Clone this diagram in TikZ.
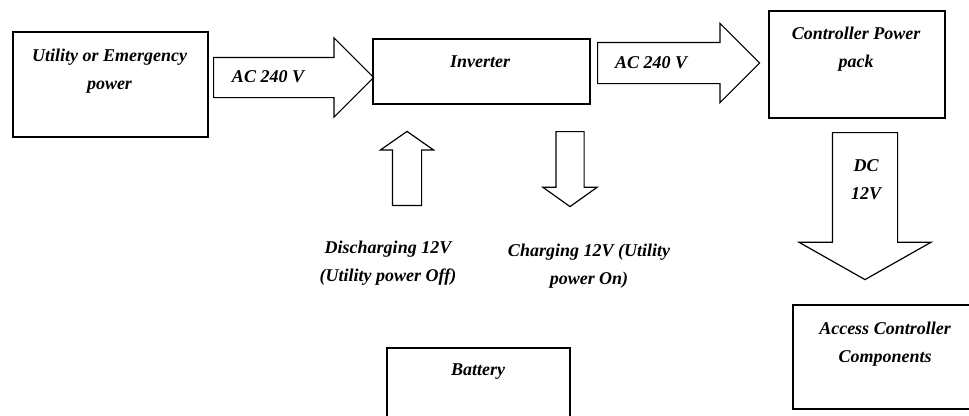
\documentclass[tikz,border=0pt]{standalone}
\usepackage{fontspec}
\setmainfont{Liberation Serif}
\usetikzlibrary{shapes.arrows}

\begin{document}
\begin{tikzpicture}[
    x=0.75pt, y=-0.75pt,
    txt/.style={align=center, font=\bfseries\itshape\fontsize{13.5}{21}\selectfont},
    block/.style={rectangle, draw, line width=1.3pt, anchor=north west, inner sep=0pt},
    flow/.style={single arrow, draw, line width=0.9pt, inner xsep=0pt, anchor=tail}
]
\useasboundingbox (0,0) rectangle (969,415);
\clip (0,0) rectangle (969,415);

% Boxes
\node[block, minimum width=146.25pt, minimum height=78.75pt] (utility) at (12,31) {};
\node[block, minimum width=162.75pt, minimum height=48.75pt] (inverter) at (372,38) {};
\node[block, minimum width=132pt, minimum height=80.25pt] (ctrlpack) at (768,10) {};
\node[block, minimum width=139.5pt, minimum height=78pt] (access) at (792,304) {};
\node[block, minimum width=137.25pt, minimum height=78.75pt] (battery) at (386,347) {};

% Box texts
\node[txt] (utility text) at (109.5,71) {Utility or Emergency\\power};
\node[txt] (inverter text) at (480,62) {Inverter};
\node[txt] (ctrlpack text) at (856,49) {Controller Power\\pack};
\node[txt] (access text) at (885,344) {Access Controller\\Components};
\node[txt] (battery text) at (478,372) {Battery};

% Block arrows (placed by their tails)
\node[flow, minimum height=120pt, minimum width=58.5pt, inner ysep=14.625pt, single arrow head extend=14.625pt, single arrow tip angle=90] (acin) at (213,77.5) {};
\node[flow, minimum height=121.5pt, minimum width=58.5pt, inner ysep=15pt, single arrow head extend=14.25pt, single arrow tip angle=90] (acout) at (597,63) {};
\node[flow, rotate=-90, minimum height=110.25pt, minimum width=98.25pt, inner ysep=24pt, single arrow head extend=25.125pt, single arrow tip angle=121] (dcout) at (865,132) {};
\node[flow, rotate=90, minimum height=55.5pt, minimum width=39pt, inner ysep=10.5pt, single arrow head extend=9pt, single arrow tip angle=110] (dischg) at (407,206) {};
\node[flow, rotate=-90, minimum height=56.25pt, minimum width=39.75pt, inner ysep=10.125pt, single arrow head extend=9.75pt, single arrow tip angle=109] (chg) at (570,131) {};

% Arrow texts
\node[txt] (acin text) at (268,77) {AC 240 V};
\node[txt] (acout text) at (651,63) {AC 240 V};
\node[txt] (dc text) at (866,180) {DC\\12V};
\node[txt] (dischg text) at (388,263.5) {Discharging 12V\\(Utility power Off)};
\node[txt] (chg text) at (589,266) {Charging 12V (Utility\\power On)};

\end{tikzpicture}
\end{document}
